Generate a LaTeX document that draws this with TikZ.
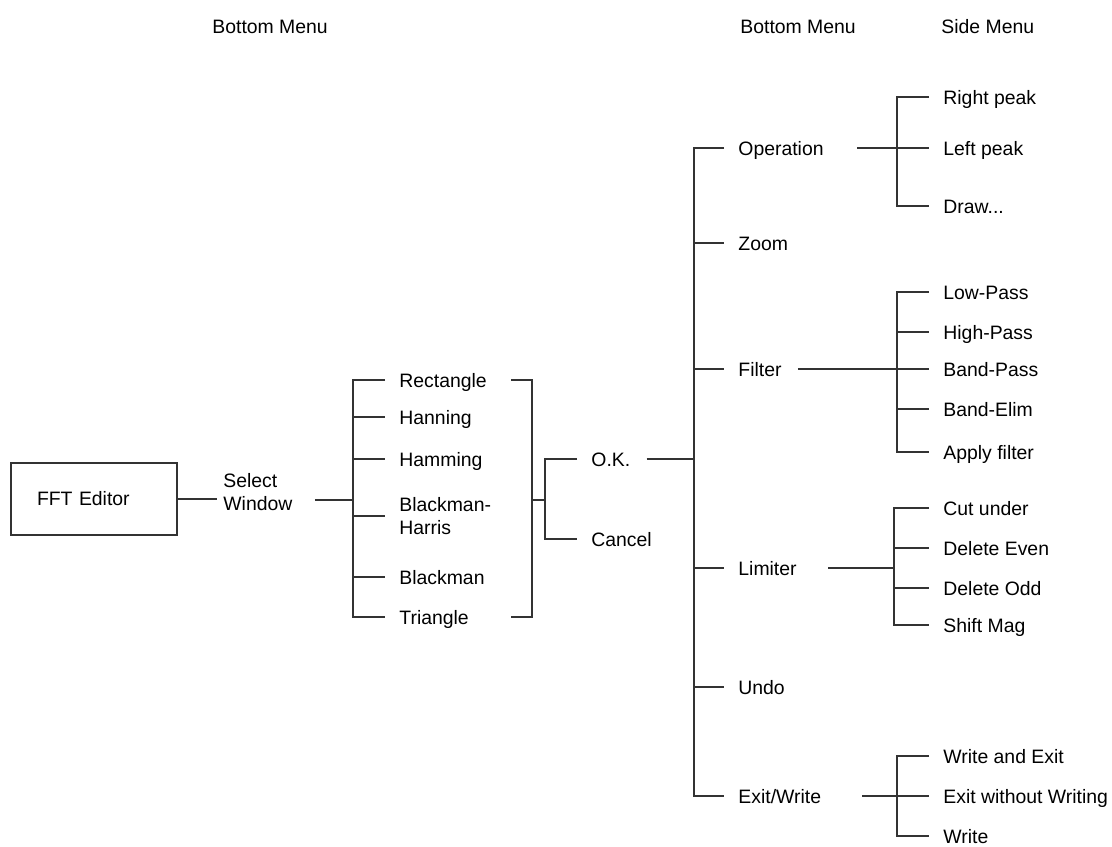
\documentclass[tikz,border=0pt]{standalone}
\usepackage{fontspec}
\setmainfont{Liberation Sans}
\usepackage{tikz}
\usetikzlibrary{calc}

\begin{document}
\begin{tikzpicture}[
      x=0.5pt, y=-0.5pt,
      font=\fontsize{9.7pt}{11.6pt}\selectfont,
      box/.style={draw=black!80, line width=0.6pt, minimum width=83pt,
                  minimum height=36pt, text width=57pt, inner xsep=13pt, align=left},
      itm/.style={anchor=west, inner xsep=7pt, inner ysep=1pt,
                  text height=7pt, text depth=0pt},
      itm2/.style={anchor=west, inner xsep=7pt, align=left},
      hdr/.style={anchor=west, inner sep=0pt, text height=7pt, text depth=0pt},
      ln/.style={draw=black!80, line width=0.6pt}
    ]
    \useasboundingbox (0,0) rectangle (1112,846);

    % ---- headings ----
    \node[hdr] (hdrl) at (212,26) {Bottom Menu};
    \node[hdr] (hdrm) at (740,26) {Bottom Menu};
    \node[hdr] (hdrs) at (941,26) {Side Menu};

    % ---- editor and window types ----
    \node[box] (fft) at (94,499) {FFT Editor};
    \node[itm2, inner xsep=3pt] (selwin) at (217,492) {Select\\Window};

    \node[itm] (rect) at (385,380) {Rectangle};
    \node[itm] (hann) at (385,417) {Hanning};
    \node[itm] (hamm) at (385,459) {Hamming};
    \node[itm2] (bharris) at (385,516) {Blackman-\\Harris};
    \node[itm] (bman) at (385,577) {Blackman};
    \node[itm] (tri) at (385,617) {Triangle};

    \node[itm] (ok) at (577,459) {O.K.};
    \node[itm] (cancel) at (577,539) {Cancel};

    % ---- main menu ----
    \node[itm] (oper) at (724,148) {Operation};
    \node[itm] (zoom) at (724,243) {Zoom};
    \node[itm] (filt) at (724,369) {Filter};
    \node[itm] (lim) at (724,568) {Limiter};
    \node[itm] (undo) at (724,687) {Undo};
    \node[itm] (exitw) at (724,796) {Exit/Write};

    % ---- side menus ----
    \node[itm] (rpeak) at (929,97) {Right peak};
    \node[itm] (lpeak) at (929,148) {Left peak};
    \node[itm] (drw) at (929,206) {Draw...};

    \node[itm] (lowp) at (929,292) {Low-Pass};
    \node[itm] (highp) at (929,332) {High-Pass};
    \node[itm] (bandp) at (929,369) {Band-Pass};
    \node[itm] (bande) at (929,409) {Band-Elim};
    \node[itm] (apply) at (929,452) {Apply filter};

    \node[itm] (cutu) at (929,508) {Cut under};
    \node[itm] (deleven) at (929,548) {Delete Even};
    \node[itm] (delodd) at (929,588) {Delete Odd};
    \node[itm] (shiftm) at (929,625) {Shift Mag};

    \node[itm] (wexit) at (929,756) {Write and Exit};
    \node[itm] (exitnw) at (929,796) {Exit without Writing};
    \node[itm] (wrt) at (929,836) {Write};

    % ---- bar junctions ----
    \coordinate (winbar) at (353,500);
    \coordinate (selbar) at (532,500);
    \coordinate (okbar) at (545,500);
    \coordinate (mainbar) at (694,459);
    \coordinate (operbar) at (897,148);
    \coordinate (filtbar) at (897,369);
    \coordinate (limbar) at (894,568);
    \coordinate (exitbar) at (897,796);

    % ---- connectors ----
    \draw[ln] (fft.east) -- (fft.east -| selwin.west);
    \draw[ln] ($(selwin.east |- winbar)+(16,0)$) -- (winbar);
    \draw[ln] (rect.west) -| (winbar) |- (tri.west);
    \foreach \n in {hann,hamm,bharris,bman}
      \draw[ln] (winbar |- \n.west) -- (\n.west);
    \draw[ln] ($(selbar |- rect.west)+(-21,0)$) -| (selbar) |- ($(selbar |- tri.west)+(-21,0)$);
    \draw[ln] (selbar) -- (okbar);
    \draw[ln] (ok.west) -| (okbar) |- (cancel.west);
    \draw[ln] ($(ok.east)+(2,0)$) -- (ok.east -| mainbar);

    \draw[ln] (oper.west) -| (mainbar) |- (exitw.west);
    \foreach \n in {zoom,filt,lim,undo}
      \draw[ln] (mainbar |- \n.west) -- (\n.west);

    \draw[ln] ($(oper.east)+(19,0)$) -- (lpeak.west);
    \draw[ln] (rpeak.west) -| (operbar) |- (drw.west);

    \draw[ln] ($(filt.east)+(2,0)$) -- (bandp.west);
    \draw[ln] (lowp.west) -| (filtbar) |- (apply.west);
    \foreach \n in {highp,bande}
      \draw[ln] (filtbar |- \n.west) -- (\n.west);

    \draw[ln] ($(lim.east)+(17,0)$) -- (limbar);
    \draw[ln] (cutu.west) -| (limbar) |- (shiftm.west);
    \foreach \n in {deleven,delodd}
      \draw[ln] (limbar |- \n.west) -- (\n.west);

    \draw[ln] ($(exitw.east)+(27,0)$) -- (exitnw.west);
    \draw[ln] (wexit.west) -| (exitbar) |- (wrt.west);
  \end{tikzpicture}
\end{document}
